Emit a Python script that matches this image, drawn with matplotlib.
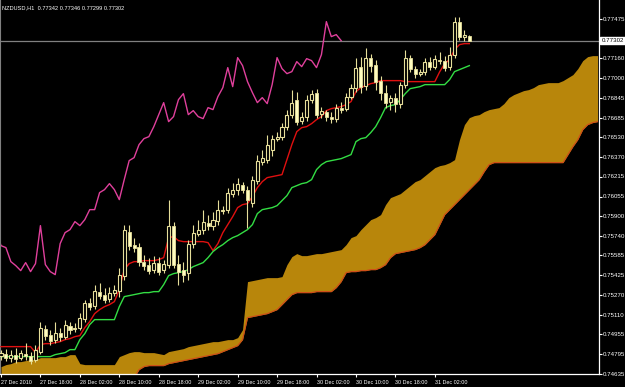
import matplotlib
matplotlib.use('Agg')
import matplotlib.pyplot as plt
import numpy as np

# %% data
symbol = 'NZDUSD,H1'

opens = [0.74782, 0.74798, 0.74766, 0.74790, 0.74766, 0.74798, 0.74782, 0.74750, 0.74814, 0.74998,
         0.74950, 0.74910, 0.74966, 0.74934, 0.75022, 0.74998, 0.75006, 0.75078, 0.75206, 0.75182,
         0.75294, 0.75270, 0.75238, 0.75286, 0.75302, 0.75422, 0.75774, 0.75670, 0.75654, 0.75534,
         0.75510, 0.75470, 0.75526, 0.75470, 0.75510, 0.75822, 0.75518, 0.75470, 0.75446, 0.75678,
         0.75758, 0.75790, 0.75846, 0.75822, 0.75862, 0.75942, 0.75950, 0.76078, 0.76110, 0.76150,
         0.76110, 0.76006, 0.76182, 0.76334, 0.76350, 0.76430, 0.76518, 0.76534, 0.76614, 0.76710,
         0.76830, 0.76662, 0.76694, 0.76830, 0.76886, 0.76718, 0.76734, 0.76694, 0.76678, 0.76766,
         0.76758, 0.76854, 0.76926, 0.77094, 0.76942, 0.77166, 0.77110, 0.76982, 0.76886, 0.76814,
         0.76846, 0.76798, 0.76950, 0.77166, 0.77078, 0.77038, 0.77054, 0.77134, 0.77094, 0.77150,
         0.77142, 0.77094, 0.77190, 0.77454, 0.77334, 0.77342]
closes = [0.74806, 0.74766, 0.74790, 0.74758, 0.74806, 0.74782, 0.74742, 0.74830, 0.75006, 0.74942,
          0.74902, 0.74966, 0.74934, 0.75030, 0.74990, 0.75006, 0.75086, 0.75206, 0.75174, 0.75302,
          0.75262, 0.75230, 0.75286, 0.75310, 0.75430, 0.75790, 0.75662, 0.75646, 0.75534, 0.75502,
          0.75462, 0.75526, 0.75454, 0.75518, 0.75822, 0.75510, 0.75454, 0.75430, 0.75678, 0.75766,
          0.75790, 0.75854, 0.75822, 0.75870, 0.75950, 0.75950, 0.76086, 0.76110, 0.76158, 0.76110,
          0.76030, 0.76190, 0.76342, 0.76366, 0.76470, 0.76518, 0.76534, 0.76614, 0.76710, 0.76806,
          0.76654, 0.76694, 0.76830, 0.76878, 0.76710, 0.76742, 0.76694, 0.76678, 0.76766, 0.76750,
          0.76854, 0.76926, 0.77086, 0.76934, 0.77166, 0.77102, 0.76974, 0.76886, 0.76806, 0.76846,
          0.76798, 0.76950, 0.77166, 0.77078, 0.77038, 0.77054, 0.77134, 0.77094, 0.77158, 0.77142,
          0.77086, 0.77190, 0.77454, 0.77334, 0.77350, 0.77302]
highs = [0.74830, 0.74838, 0.74830, 0.74846, 0.74830, 0.74886, 0.74814, 0.74870, 0.75054, 0.75030,
         0.74990, 0.75054, 0.75006, 0.75070, 0.75054, 0.75046, 0.75126, 0.75230, 0.75246, 0.75350,
         0.75366, 0.75326, 0.75334, 0.75350, 0.75486, 0.75830, 0.75830, 0.75726, 0.75686, 0.75590,
         0.75566, 0.75582, 0.75574, 0.75550, 0.76030, 0.75854, 0.75590, 0.75534, 0.75710, 0.75830,
         0.75870, 0.75950, 0.75910, 0.75934, 0.76030, 0.75982, 0.76126, 0.76166, 0.76206, 0.76174,
         0.76142, 0.76222, 0.76390, 0.76430, 0.76550, 0.76550, 0.76574, 0.76646, 0.76750, 0.76910,
         0.76894, 0.76734, 0.76870, 0.76910, 0.76918, 0.76774, 0.76750, 0.76734, 0.76798, 0.76814,
         0.76886, 0.76958, 0.77166, 0.77174, 0.77246, 0.77198, 0.77150, 0.77022, 0.76950, 0.76870,
         0.76886, 0.76974, 0.77230, 0.77190, 0.77102, 0.77078, 0.77166, 0.77174, 0.77190, 0.77214,
         0.77182, 0.77254, 0.77494, 0.77494, 0.77390, 0.77346]
lows = [0.74750, 0.74742, 0.74734, 0.74726, 0.74750, 0.74750, 0.74718, 0.74734, 0.74798, 0.74910,
        0.74870, 0.74886, 0.74902, 0.74918, 0.74958, 0.74974, 0.74990, 0.75054, 0.75150, 0.75158,
        0.75238, 0.75206, 0.75214, 0.75262, 0.75254, 0.75390, 0.75630, 0.75614, 0.75502, 0.75470,
        0.75438, 0.75446, 0.75430, 0.75446, 0.75486, 0.75486, 0.75350, 0.75374, 0.75390, 0.75646,
        0.75742, 0.75758, 0.75790, 0.75790, 0.75830, 0.75918, 0.75926, 0.76054, 0.76070, 0.76086,
        0.75806, 0.75974, 0.76158, 0.76310, 0.76326, 0.76382, 0.76502, 0.76510, 0.76590, 0.76686,
        0.76630, 0.76638, 0.76662, 0.76806, 0.76686, 0.76686, 0.76662, 0.76646, 0.76654, 0.76726,
        0.76742, 0.76838, 0.76894, 0.76886, 0.76910, 0.77054, 0.76910, 0.76830, 0.76766, 0.76750,
        0.76734, 0.76766, 0.76926, 0.77054, 0.77006, 0.77022, 0.77030, 0.77070, 0.77078, 0.77118,
        0.77062, 0.77070, 0.77166, 0.77310, 0.77302, 0.77299]

tenkan = [0.74854, 0.74854, 0.74854, 0.74854, 0.74854, 0.74854, 0.74854, 0.74806, 0.74870, 0.74878,
          0.74878, 0.74886, 0.74894, 0.74910, 0.74918, 0.74934, 0.74942, 0.75006, 0.75054, 0.75118,
          0.75150, 0.75174, 0.75190, 0.75214, 0.75310, 0.75470, 0.75518, 0.75534, 0.75534, 0.75542,
          0.75542, 0.75542, 0.75550, 0.75566, 0.75726, 0.75734, 0.75702, 0.75694, 0.75694, 0.75694,
          0.75694, 0.75694, 0.75686, 0.75622, 0.75678, 0.75766, 0.75830, 0.75894, 0.75966, 0.75990,
          0.75998, 0.76054, 0.76126, 0.76174, 0.76206, 0.76214, 0.76222, 0.76230, 0.76350, 0.76470,
          0.76574, 0.76606, 0.76614, 0.76638, 0.76670, 0.76694, 0.76742, 0.76758, 0.76766, 0.76774,
          0.76790, 0.76814, 0.76894, 0.76926, 0.76942, 0.76958, 0.76966, 0.76982, 0.76982, 0.76982,
          0.76982, 0.76982, 0.76974, 0.76974, 0.76974, 0.76974, 0.76974, 0.76974, 0.76974, 0.77054,
          0.77118, 0.77150, 0.77230, 0.77270, 0.77278, 0.77278]
kijun = [0.74774, 0.74774, 0.74774, 0.74774, 0.74774, 0.74774, 0.74774, 0.74774, 0.74774, 0.74774,
         0.74774, 0.74790, 0.74798, 0.74806, 0.74830, 0.74830, 0.74910, 0.74958, 0.75030, 0.75070,
         0.75070, 0.75070, 0.75070, 0.75070, 0.75174, 0.75254, 0.75262, 0.75270, 0.75278, 0.75286,
         0.75286, 0.75294, 0.75294, 0.75350, 0.75422, 0.75438, 0.75446, 0.75454, 0.75470, 0.75494,
         0.75510, 0.75526, 0.75566, 0.75614, 0.75646, 0.75670, 0.75702, 0.75726, 0.75742, 0.75766,
         0.75790, 0.75830, 0.75918, 0.75950, 0.75958, 0.75966, 0.75982, 0.76022, 0.76062, 0.76126,
         0.76142, 0.76158, 0.76166, 0.76190, 0.76270, 0.76310, 0.76334, 0.76342, 0.76350, 0.76358,
         0.76374, 0.76390, 0.76494, 0.76518, 0.76526, 0.76566, 0.76614, 0.76686, 0.76766, 0.76782,
         0.76790, 0.76830, 0.76878, 0.76918, 0.76926, 0.76934, 0.76950, 0.76950, 0.76950, 0.76950,
         0.76950, 0.76990, 0.77054, 0.77070, 0.77086, 0.77102]

# senkou spans, already shifted 26 bars ahead (122 points)
span_a = [0.74694, 0.74710, 0.74718, 0.74734, 0.74734, 0.74742, 0.74750, 0.74750, 0.74766, 0.74766,
          0.74766, 0.74766, 0.74774, 0.74774, 0.74790, 0.74790, 0.74718, 0.74710, 0.74710, 0.74710,
          0.74710, 0.74710, 0.74710, 0.74710, 0.74774, 0.74790, 0.74806, 0.74814, 0.74814, 0.74806,
          0.74806, 0.74806, 0.74798, 0.74790, 0.74814, 0.74822, 0.74830, 0.74838, 0.74854, 0.74862,
          0.74870, 0.74878, 0.74886, 0.74894, 0.74894, 0.74902, 0.74910, 0.74910, 0.74926, 0.74990,
          0.75374, 0.75382, 0.75390, 0.75398, 0.75406, 0.75406, 0.75406, 0.75414, 0.75510, 0.75574,
          0.75598, 0.75582, 0.75582, 0.75590, 0.75598, 0.75598, 0.75606, 0.75614, 0.75622, 0.75630,
          0.75670, 0.75726, 0.75742, 0.75790, 0.75830, 0.75870, 0.75886, 0.75910, 0.75990, 0.76046,
          0.76062, 0.76078, 0.76110, 0.76142, 0.76174, 0.76190, 0.76222, 0.76254, 0.76286, 0.76302,
          0.76310, 0.76326, 0.76350, 0.76510, 0.76630, 0.76686, 0.76702, 0.76710, 0.76734, 0.76750,
          0.76758, 0.76766, 0.76798, 0.76846, 0.76870, 0.76886, 0.76902, 0.76910, 0.76926, 0.76950,
          0.76958, 0.76966, 0.76966, 0.76966, 0.76982, 0.77006, 0.77030, 0.77078, 0.77142, 0.77174,
          0.77182, 0.77182]
span_b = [0.74590, 0.74590, 0.74590, 0.74590, 0.74590, 0.74590, 0.74590, 0.74590, 0.74590, 0.74590,
          0.74590, 0.74590, 0.74590, 0.74590, 0.74590, 0.74590, 0.74590, 0.74590, 0.74590, 0.74590,
          0.74590, 0.74590, 0.74590, 0.74590, 0.74590, 0.74590, 0.74590, 0.74606, 0.74670, 0.74694,
          0.74702, 0.74702, 0.74702, 0.74702, 0.74718, 0.74726, 0.74734, 0.74742, 0.74750, 0.74758,
          0.74766, 0.74774, 0.74782, 0.74790, 0.74798, 0.74814, 0.74830, 0.74846, 0.74862, 0.74910,
          0.75086, 0.75094, 0.75102, 0.75110, 0.75118, 0.75134, 0.75150, 0.75190, 0.75230, 0.75270,
          0.75286, 0.75286, 0.75286, 0.75286, 0.75294, 0.75294, 0.75294, 0.75294, 0.75326, 0.75374,
          0.75446, 0.75454, 0.75454, 0.75462, 0.75462, 0.75470, 0.75470, 0.75486, 0.75510, 0.75566,
          0.75598, 0.75606, 0.75614, 0.75622, 0.75630, 0.75646, 0.75670, 0.75710, 0.75750, 0.75830,
          0.75910, 0.75950, 0.75990, 0.76030, 0.76070, 0.76110, 0.76150, 0.76190, 0.76254, 0.76310,
          0.76326, 0.76326, 0.76326, 0.76326, 0.76326, 0.76326, 0.76326, 0.76326, 0.76326, 0.76326,
          0.76326, 0.76326, 0.76326, 0.76326, 0.76326, 0.76390, 0.76454, 0.76510, 0.76590, 0.76630,
          0.76646, 0.76654]

tick_labels = ['27 Dec 2010', '27 Dec 18:00', '28 Dec 02:00', '28 Dec 10:00', '28 Dec 18:00',
               '29 Dec 02:00', '29 Dec 10:00', '29 Dec 18:00', '30 Dec 02:00', '30 Dec 10:00',
               '30 Dec 18:00', '31 Dec 02:00']
price_ticks = [0.74635, 0.74795, 0.74955, 0.75110, 0.75270, 0.75425, 0.75585, 0.75740, 0.75900,
               0.76055, 0.76215, 0.76370, 0.76530, 0.76685, 0.76845, 0.77000, 0.77160, 0.77475]

# %%
plt.rcParams['font.family'] = ['Liberation Sans', 'DejaVu Sans']
fig = plt.figure(figsize=(6.25, 3.87), dpi=100, facecolor='black')
ax = fig.add_axes([0, 13 / 387, 599 / 625, 374 / 387], facecolor='black')

idx = np.arange(len(closes))
o = np.array(opens)
c = np.array(closes)
h = np.array(highs)
l = np.array(lows)
bear = o > c

# cloud first so everything else sits on top
span_x = np.arange(len(span_a))
ax.fill_between(span_x, span_a, span_b, color='#B8860B', lw=0, zorder=1)
ax.plot(span_x, span_b, color='#D04A1A', lw=0.8, zorder=1.5)

# chikou = close drawn 26 bars back
ax.plot(idx - 26, c, color='#E0409C', lw=1, zorder=2)
ax.plot(idx, tenkan, color='#E01010', lw=1, zorder=3)
ax.plot(idx, kijun, color='#33DD44', lw=1, zorder=3)

# candles
wick = '#E6DE9A'
ax.vlines(idx, l, h, color=wick, lw=0.8, zorder=4)
body_lo = np.minimum(o, c)
body_h = np.maximum(np.abs(c - o), 0.00002)
ax.bar(idx[bear], body_h[bear], bottom=body_lo[bear], width=0.62,
       color='#FFFDC0', edgecolor=wick, lw=0.6, zorder=5)
ax.bar(idx[~bear], body_h[~bear], bottom=body_lo[~bear], width=0.62,
       color='black', edgecolor=wick, lw=0.8, zorder=5)

# last price
last = closes[-1]
ax.axhline(last, color='#808080', lw=0.9, zorder=0.5)
ax.text(1.004, last, '%.5f' % last, transform=ax.get_yaxis_transform(),
        fontsize=4.4, color='black', va='center', ha='left',
        bbox=dict(boxstyle='square,pad=0.15', fc='white', ec='white'))

ax.text(0.004, 0.986, '%s  %.5f %.5f %.5f %.5f' % (symbol, opens[-1], highs[-1], lows[-1], closes[-1]),
        transform=ax.transAxes, color='white', fontsize=4.1, va='top', ha='left')

ax.set_xlim(-0.2, 121.3)
ax.set_ylim(0.74635, 0.77627)

ax.yaxis.tick_right()
ax.set_yticks(price_ticks)
ax.set_yticklabels(['%.5f' % p for p in price_ticks])
ax.set_xticks(np.arange(len(tick_labels)) * 8)
ax.set_xticklabels(tick_labels)
for lab in ax.get_xticklabels():
    lab.set_horizontalalignment('left')
ax.tick_params(axis='x', colors='white', labelsize=3.9, length=2.5, width=0.8, pad=1.5)
ax.tick_params(axis='y', colors='white', labelsize=4.4, length=2, width=0.8, pad=0.6)

ax.spines['top'].set_visible(False)
ax.spines['left'].set_color('#808080')
for side in ['right', 'bottom']:
    ax.spines[side].set_color('white')
    ax.spines[side].set_linewidth(0.9)

plt.savefig('out.png', dpi=100, facecolor='black')
